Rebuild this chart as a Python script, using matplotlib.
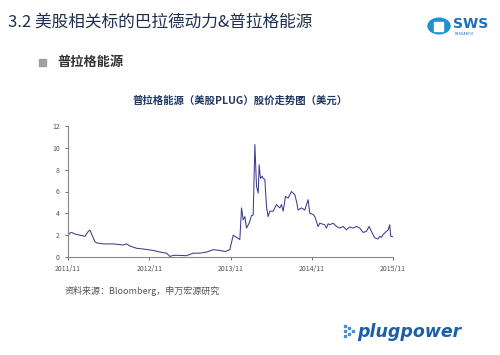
import matplotlib.pyplot as plt
from matplotlib.patches import Circle, Rectangle

plt.rcParams['font.family'] = ['Noto Sans CJK SC', 'DejaVu Sans']

# months since 2011/11, price in USD
months = [0, 0.3, 0.54, 1.03, 1.77, 2.51, 3.0, 3.25, 3.49, 3.98, 4.23, 5.21, 6.69,
          8.17, 8.66, 9.15, 10.13, 11.12, 12.59, 13.58, 14.56, 15.05, 15.54, 16.53,
          17.51, 18.49, 19.48, 20.46, 21.45, 22.43, 23.17, 23.9, 24.4, 25.13, 25.38,
          25.63, 25.87, 26.12, 26.36, 26.76, 27.1, 27.35, 27.6, 27.84, 28.09, 28.23,
          28.43, 28.68, 28.82, 29.07, 29.32, 29.56, 29.81, 30.3, 30.79, 31.28, 31.53,
          31.78, 32.12, 32.51, 33.0, 33.5, 33.74, 33.99, 34.48, 34.97, 35.46, 35.71,
          36.2, 36.45, 36.94, 37.19, 37.92, 38.17, 38.42, 38.66, 39.15, 39.65, 40.14,
          40.63, 41.12, 41.61, 42.1, 42.6, 43.09, 43.58, 44.07, 44.47, 44.81, 45.3,
          45.79, 46.04, 46.29, 46.53, 47.02, 47.27, 47.52, 47.66, 48.0]
price = [2.0, 2.2, 2.25, 2.1, 2.0, 1.9, 2.35, 2.45, 2.1, 1.4, 1.3, 1.2, 1.2,
         1.1, 1.2, 1.0, 0.8, 0.73, 0.6, 0.45, 0.35, 0.05, 0.15, 0.15,
         0.12, 0.35, 0.35, 0.45, 0.67, 0.6, 0.5, 0.67, 2.0, 1.7, 1.6,
         4.5, 3.4, 3.7, 2.65, 3.1, 3.8, 3.85, 10.3, 6.5, 5.85, 8.45,
         7.2, 7.4, 7.2, 7.1, 4.6, 3.7, 4.2, 4.2, 4.8, 4.5, 4.8,
         4.2, 5.55, 5.4, 6.0, 5.7, 5.1, 4.3, 4.5, 4.3, 5.25, 4.0,
         3.9, 3.7, 2.8, 3.1, 2.95, 2.65, 3.05, 2.95, 3.1, 2.8, 2.65,
         2.8, 2.5, 2.75, 2.65, 2.8, 2.65, 2.25, 2.35, 2.8, 2.35, 1.75,
         1.65, 1.9, 1.8, 2.05, 2.35, 2.45, 2.95, 1.9, 1.85]
xtick_pos = [0, 12, 24, 36, 48]
xtick_labels = ['2011/11', '2012/11', '2013/11', '2014/11', '2015/11']
yticks = [0, 2, 4, 6, 8, 10, 12]

fig = plt.figure(figsize=(5, 3.55), dpi=100)
W, H = 500, 355

# headings
fig.text(8 / W, 1 - 22 / H, '3.2 美股相关标的巴拉德动力&普拉格能源', fontsize=12,
         color='#1f2f4f', va='center', ha='left')
fig.patches.append(Rectangle((39 / W, 1 - 66 / H), 7 / W, 7 / H,
                             transform=fig.transFigure, color='#a0a0a0'))
fig.text(57 / W, 1 - 62 / H, '普拉格能源', fontsize=9.5, fontweight='bold',
         color='#333333', va='center', ha='left')

# SWS logo
fig.patches.append(Circle((439 / W, 1 - 26 / H), 11 / W, transform=fig.transFigure,
                          color='#1e90d6'))
fig.patches.append(Rectangle((434 / W, 1 - 31 / H), 9 / W, 9 / H,
                             transform=fig.transFigure, color='white'))
fig.text(453 / W, 1 - 24 / H, 'SWS', fontsize=10, fontweight='bold',
         color='#1b6fb8', va='center', ha='left', family='DejaVu Sans')
fig.text(455 / W, 1 - 34 / H, 'RESEARCH', fontsize=2.5, color='#1b6fb8',
         va='center', ha='left', family='DejaVu Sans')

# chart title
fig.text(240 / W, 1 - 101 / H, '普拉格能源（美股PLUG）股价走势图（美元）', fontsize=7.5,
         fontweight='bold', color='#1f3864', va='center', ha='center')

ax = fig.add_axes([68 / W, 1 - 257 / H, 325 / W, 131 / H])
ax.plot(months, price, color='#3c3c8c', linewidth=0.75)
ax.set_xlim(0, 48)
ax.set_ylim(0, 12)
ax.set_xticks(xtick_pos)
ax.set_xticklabels(xtick_labels)
ax.set_yticks(yticks)
for s in ['top', 'right']:
    ax.spines[s].set_visible(False)
for s in ['left', 'bottom']:
    ax.spines[s].set_color('#888888')
    ax.spines[s].set_linewidth(0.8)
ax.tick_params(labelsize=5, colors='#555555', length=2.5, width=0.6)

fig.text(65 / W, 1 - 291 / H, '资料来源：Bloomberg，申万宏源研究', fontsize=6.5,
         color='#555555', va='center', ha='left')

# plug power logo
fig.text(461 / W, 1 - 332 / H, 'plugpower', fontsize=12.5, fontweight='bold',
         style='italic', color='#1b5fa8', va='center', ha='right', family='DejaVu Sans')
for dx, dy in [(0, 0), (4, 3), (4, -3), (8, 0), (8, 5), (8, -5)]:
    fig.patches.append(Rectangle(((352 - dx) / W, 1 - (332 + dy) / H), 2 / W, 2 / H,
                                 transform=fig.transFigure, color='#4a90d0'))

fig.savefig('out.png', dpi=100)
